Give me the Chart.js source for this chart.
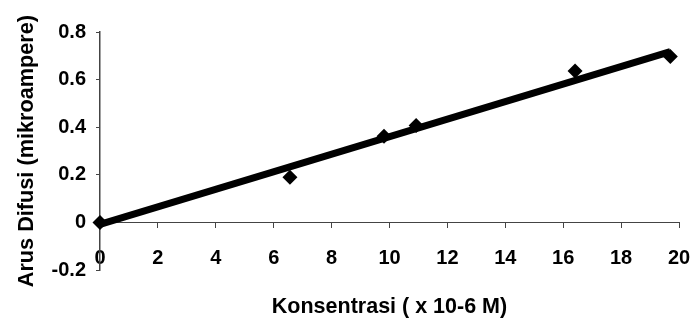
<!DOCTYPE html>
<html><head><meta charset="utf-8">
<script src="https://cdn.jsdelivr.net/npm/chart.js@4/dist/chart.umd.min.js"></script>
<style>html,body{margin:0;padding:0;background:#fff}#wrap{width:692px;height:320px}</style>
</head><body><div id="wrap"><canvas id="c" width="692" height="320"></canvas></div>
<script>
// Measured points: concentration (x 10-6 M) vs diffusion current (microampere)
const concentration = [0, 6.56, 9.81, 10.92, 16.41, 19.7];
const current = [0, 0.19, 0.362, 0.407, 0.636, 0.697];
// Trend line end points
const trendX = [0, 19.7];
const trendY = [-0.008, 0.718];
const xTickLabels = ['0','2','4','6','8','10','12','14','16','18','20'];
const yTickLabels = ['-0.2','0','0.2','0.4','0.6','0.8'];

const FONT = 'Liberation Sans, Arial, Helvetica, sans-serif';
const axisColor = '#444';

new Chart(document.getElementById('c'), {
  type: 'scatter',
  data: {
    datasets: [
      {
        type: 'line',
        data: trendX.map((x, i) => ({x: x, y: trendY[i]})),
        borderColor: '#000',
        borderWidth: 7,
        pointRadius: 0,
        fill: false,
        clip: false
      },
      {
        data: concentration.map((x, i) => ({x: x, y: current[i]})),
        pointStyle: 'rectRot',
        pointRadius: 7.5,
        backgroundColor: '#000',
        borderColor: '#000',
        borderWidth: 0,
        clip: false
      }
    ]
  },
  options: {
    responsive: false,
    animation: false,
    devicePixelRatio: 1,
    layout: {padding: {top: 32, right: 13, bottom: 0, left: 0}},
    plugins: {
      legend: {display: false},
      tooltip: {enabled: false},
      title: {
        display: true,
        position: 'bottom',
        fullSize: false,
        text: 'Konsentrasi ( x 10-6 M)',
        color: '#000',
        font: {family: FONT, size: 21.5, weight: 'bold'},
        padding: {top: 24, bottom: 0}
      }
    },
    scales: {
      x: {
        type: 'linear',
        position: {y: 0},
        min: 0, max: 20,
        ticks: {
          stepSize: 2, color: '#000', padding: 19, maxRotation: 0, autoSkip: false,
          font: {family: FONT, size: 20, weight: 'bold'},
          callback: (v, i) => xTickLabels[i]
        },
        grid: {drawOnChartArea: false, drawTicks: true, tickLength: 5, color: axisColor},
        border: {display: true, color: axisColor, width: 1},
        afterFit: (s) => { s.paddingLeft = 0; s.paddingRight = 0; }
      },
      y: {
        type: 'linear',
        min: -0.2, max: 0.8,
        ticks: {
          stepSize: 0.2, color: '#000', padding: 10,
          font: {family: FONT, size: 20, weight: 'bold'},
          callback: (v, i) => yTickLabels[i]
        },
        grid: {drawOnChartArea: false, drawTicks: true, tickLength: 4, color: axisColor},
        border: {display: true, color: axisColor, width: 1.5},
        title: {
          display: true,
          text: 'Arus Difusi (mikroampere)',
          color: '#000',
          font: {family: FONT, size: 21.7, weight: 'bold'},
          padding: {top: 14, bottom: 0}
        },
        afterFit: (s) => { s.width = 100; }
      }
    }
  }
});
</script>
</body></html>
